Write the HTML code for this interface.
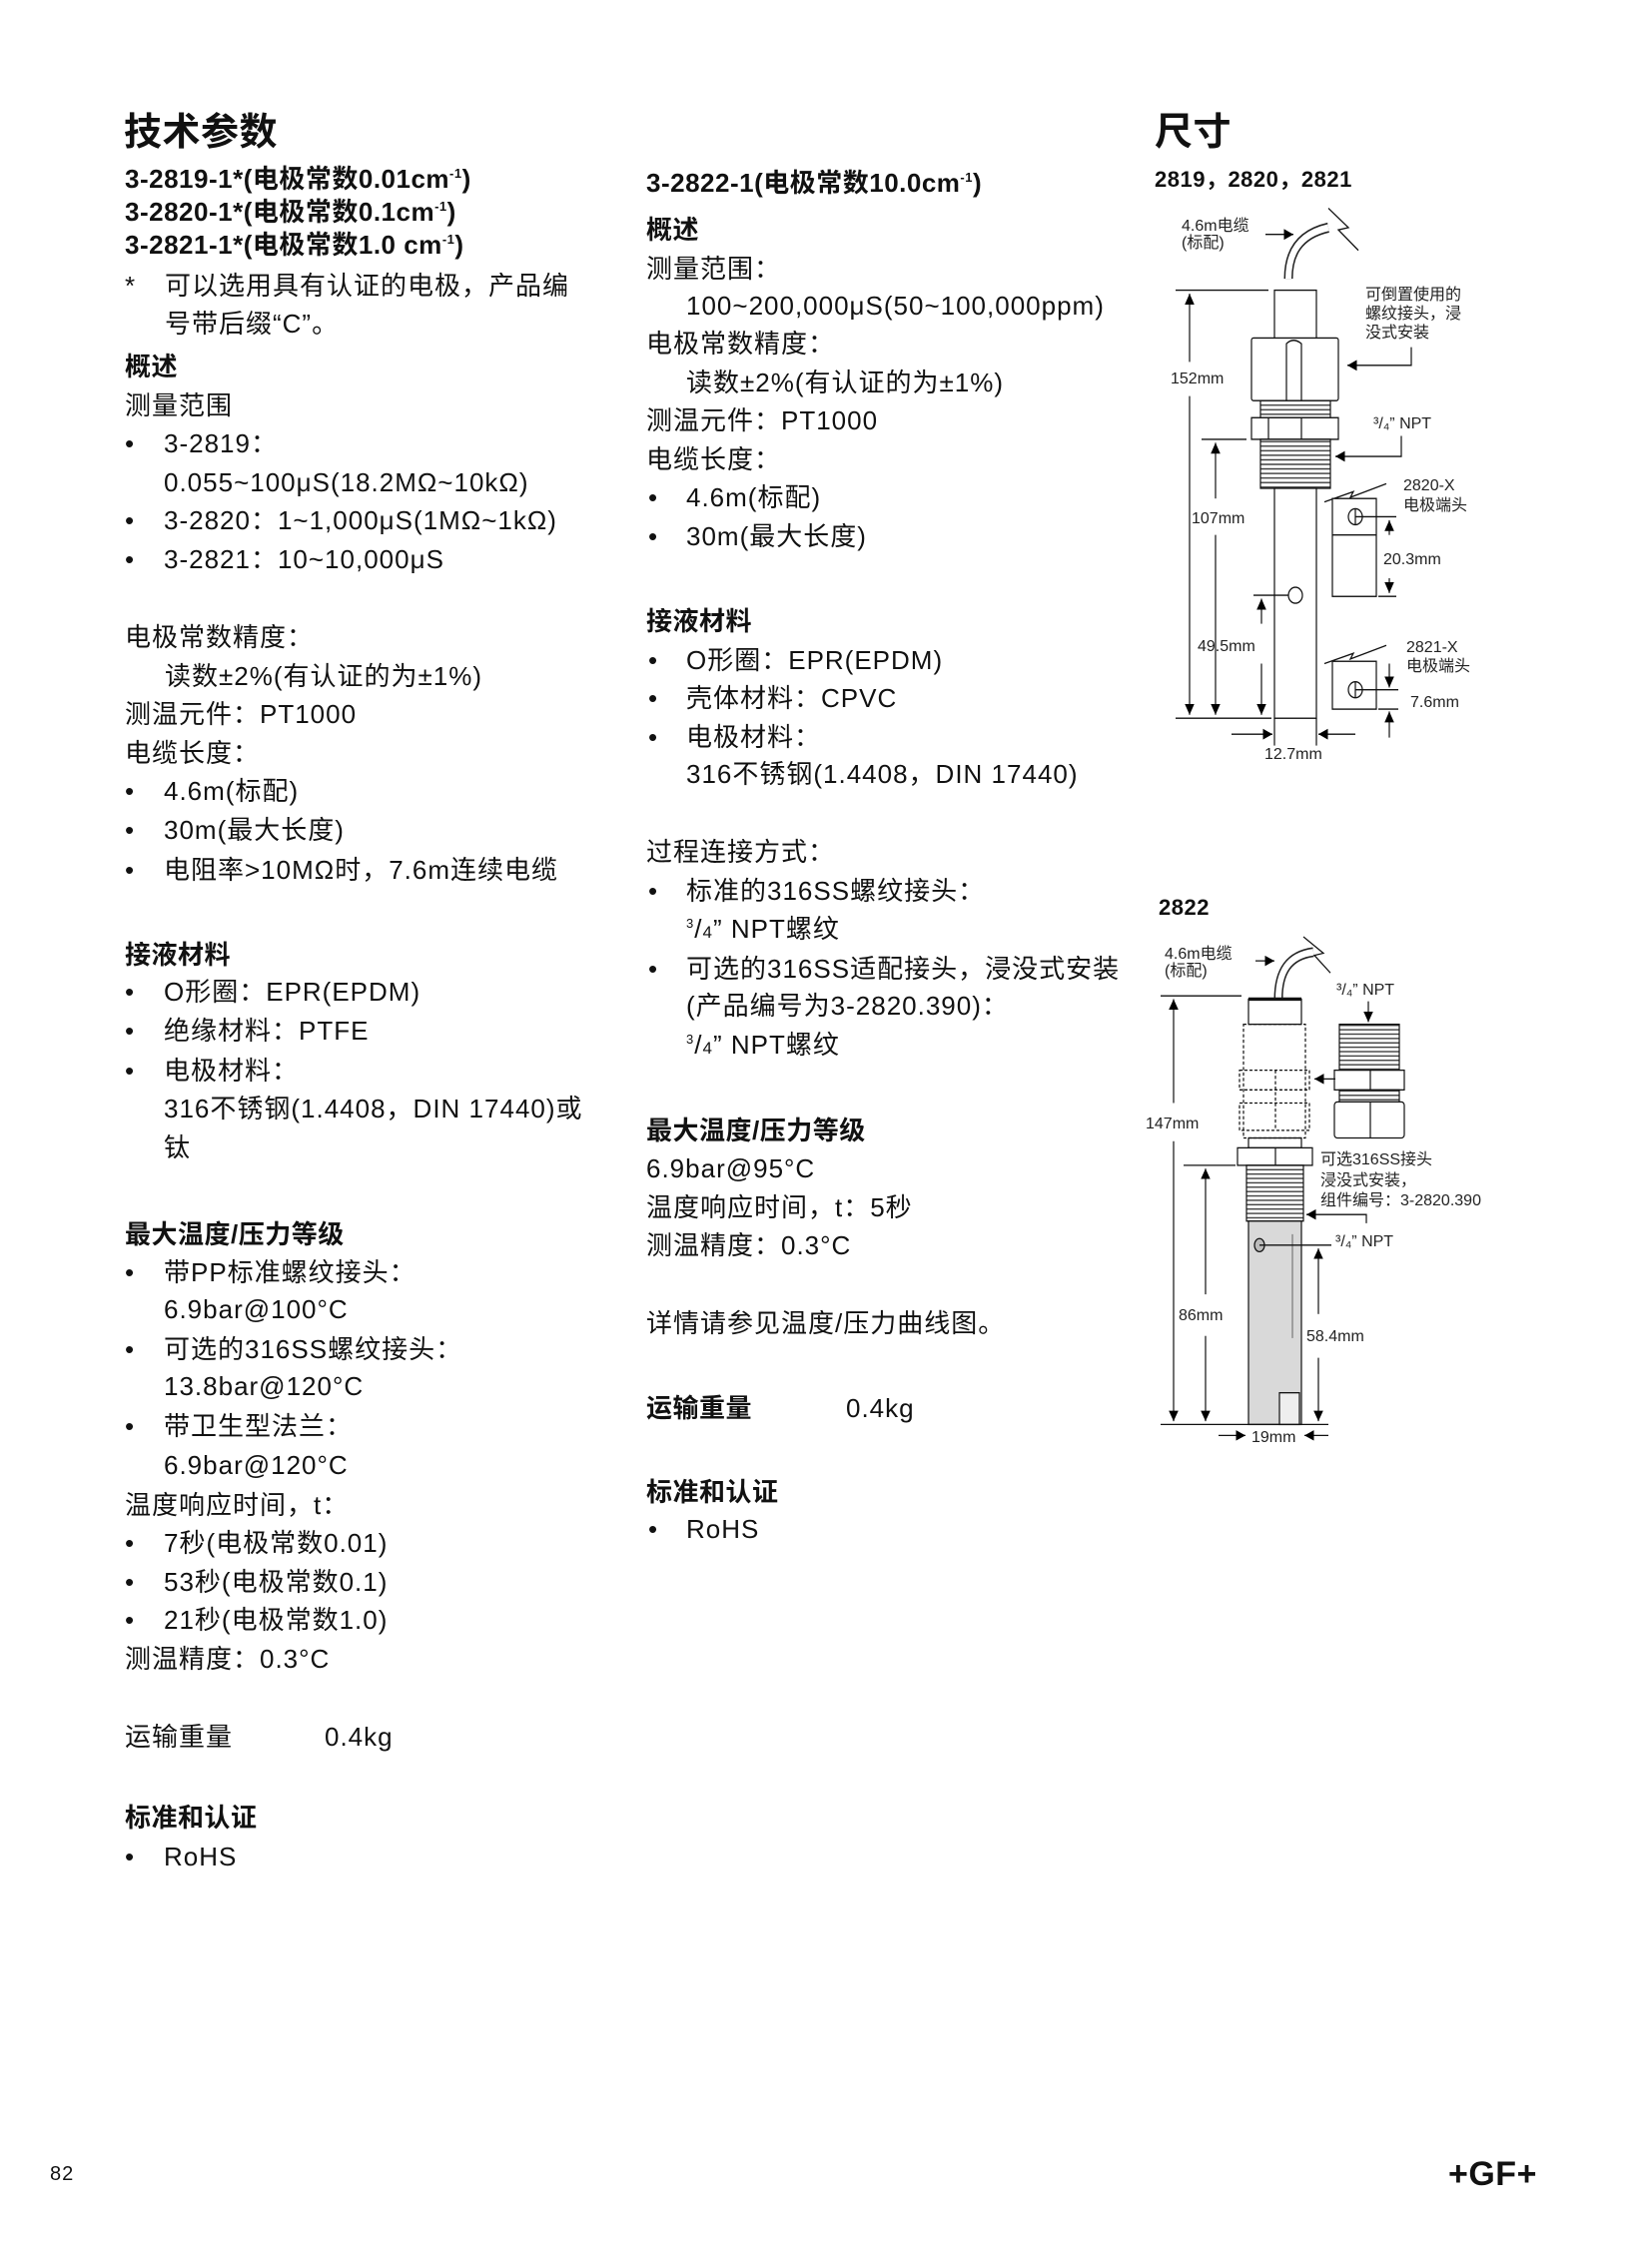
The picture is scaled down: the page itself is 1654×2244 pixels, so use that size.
<!DOCTYPE html>
<html><head><meta charset="utf-8">
<style>
body{margin:0;background:#fff;}
#p{position:relative;width:1654px;height:2244px;overflow:hidden;background:#fff;color:#111;font-family:"Liberation Sans","Noto Sans CJK SC",sans-serif;}
.t{position:absolute;font-size:26px;line-height:30px;white-space:nowrap;letter-spacing:1px;margin-top:5px;}
.b{font-weight:bold;letter-spacing:0.5px;}
sup{font-size:13px;vertical-align:10px;line-height:0;}
svg text{font-family:"Liberation Sans","Noto Sans CJK SC",sans-serif;fill:#222;}
</style></head><body><div id="p">
<div class="t b" style="left:124px;top:106px;font-size:38px;line-height:44px">技术参数</div>
<div class="t b" style="left:1156px;top:106px;font-size:38px;line-height:44px">尺寸</div>
<div class="t b" style="left:1156px;top:162px;font-size:22px;line-height:26px">2819，2820，2821</div>
<div class="t b" style="left:1160px;top:891px;font-size:22px;line-height:26px">2822</div>

<div class="t b" style="left:125px;top:159px">3-2819-1*(电极常数0.01cm<sup>-1</sup>)</div>
<div class="t b" style="left:125px;top:192px">3-2820-1*(电极常数0.1cm<sup>-1</sup>)</div>
<div class="t b" style="left:125px;top:225px">3-2821-1*(电极常数1.0 cm<sup>-1</sup>)</div>
<div class="t" style="left:125px;top:266px">*</div>
<div class="t" style="left:165px;top:266px">可以选用具有认证的电极，产品编</div>
<div class="t" style="left:165px;top:304px">号带后缀“C”。</div>
<div class="t b" style="left:125px;top:347px">概述</div>
<div class="t" style="left:125px;top:386px">测量范围</div>
<div class="t" style="left:125px;top:424px">•</div><div class="t" style="left:164px;top:424px">3-2819：</div>
<div class="t" style="left:164px;top:463px">0.055~100μS(18.2MΩ~10kΩ)</div>
<div class="t" style="left:125px;top:501px">•</div><div class="t" style="left:164px;top:501px">3-2820：1~1,000μS(1MΩ~1kΩ)</div>
<div class="t" style="left:125px;top:540px">•</div><div class="t" style="left:164px;top:540px">3-2821：10~10,000μS</div>
<div class="t" style="left:125px;top:618px">电极常数精度：</div>
<div class="t" style="left:165px;top:657px">读数±2%(有认证的为±1%)</div>
<div class="t" style="left:125px;top:695px">测温元件：PT1000</div>
<div class="t" style="left:125px;top:734px">电缆长度：</div>
<div class="t" style="left:125px;top:772px">•</div><div class="t" style="left:164px;top:772px">4.6m(标配)</div>
<div class="t" style="left:125px;top:811px">•</div><div class="t" style="left:164px;top:811px">30m(最大长度)</div>
<div class="t" style="left:125px;top:851px">•</div><div class="t" style="left:164px;top:851px">电阻率&gt;10MΩ时，7.6m连续电缆</div>
<div class="t b" style="left:125px;top:936px">接液材料</div>
<div class="t" style="left:125px;top:973px">•</div><div class="t" style="left:164px;top:973px">O形圈：EPR(EPDM)</div>
<div class="t" style="left:125px;top:1012px">•</div><div class="t" style="left:164px;top:1012px">绝缘材料：PTFE</div>
<div class="t" style="left:125px;top:1052px">•</div><div class="t" style="left:164px;top:1052px">电极材料：</div>
<div class="t" style="left:164px;top:1090px">316不锈钢(1.4408，DIN 17440)或</div>
<div class="t" style="left:164px;top:1129px">钛</div>
<div class="t b" style="left:125px;top:1216px">最大温度/压力等级</div>
<div class="t" style="left:125px;top:1254px">•</div><div class="t" style="left:164px;top:1254px">带PP标准螺纹接头：</div>
<div class="t" style="left:164px;top:1291px">6.9bar@100°C</div>
<div class="t" style="left:125px;top:1331px">•</div><div class="t" style="left:164px;top:1331px">可选的316SS螺纹接头：</div>
<div class="t" style="left:164px;top:1368px">13.8bar@120°C</div>
<div class="t" style="left:125px;top:1408px">•</div><div class="t" style="left:164px;top:1408px">带卫生型法兰：</div>
<div class="t" style="left:164px;top:1447px">6.9bar@120°C</div>
<div class="t" style="left:125px;top:1487px">温度响应时间，t：</div>
<div class="t" style="left:125px;top:1525px">•</div><div class="t" style="left:164px;top:1525px">7秒(电极常数0.01)</div>
<div class="t" style="left:125px;top:1564px">•</div><div class="t" style="left:164px;top:1564px">53秒(电极常数0.1)</div>
<div class="t" style="left:125px;top:1602px">•</div><div class="t" style="left:164px;top:1602px">21秒(电极常数1.0)</div>
<div class="t" style="left:125px;top:1641px">测温精度：0.3°C</div>
<div class="t" style="left:125px;top:1719px">运输重量</div><div class="t" style="left:325px;top:1719px">0.4kg</div>
<div class="t b" style="left:125px;top:1800px">标准和认证</div>
<div class="t" style="left:125px;top:1839px">•</div><div class="t" style="left:164px;top:1839px">RoHS</div>

<div class="t b" style="left:647px;top:163px">3-2822-1(电极常数10.0cm<sup>-1</sup>)</div>
<div class="t b" style="left:647px;top:210px">概述</div>
<div class="t" style="left:647px;top:249px">测量范围：</div>
<div class="t" style="left:687px;top:286px">100~200,000μS(50~100,000ppm)</div>
<div class="t" style="left:647px;top:324px">电极常数精度：</div>
<div class="t" style="left:687px;top:363px">读数±2%(有认证的为±1%)</div>
<div class="t" style="left:647px;top:401px">测温元件：PT1000</div>
<div class="t" style="left:647px;top:440px">电缆长度：</div>
<div class="t" style="left:649px;top:478px">•</div><div class="t" style="left:687px;top:478px">4.6m(标配)</div>
<div class="t" style="left:649px;top:517px">•</div><div class="t" style="left:687px;top:517px">30m(最大长度)</div>
<div class="t b" style="left:647px;top:602px">接液材料</div>
<div class="t" style="left:649px;top:641px">•</div><div class="t" style="left:687px;top:641px">O形圈：EPR(EPDM)</div>
<div class="t" style="left:649px;top:679px">•</div><div class="t" style="left:687px;top:679px">壳体材料：CPVC</div>
<div class="t" style="left:649px;top:718px">•</div><div class="t" style="left:687px;top:718px">电极材料：</div>
<div class="t" style="left:687px;top:755px">316不锈钢(1.4408，DIN 17440)</div>
<div class="t" style="left:647px;top:833px">过程连接方式：</div>
<div class="t" style="left:649px;top:872px">•</div><div class="t" style="left:687px;top:872px">标准的316SS螺纹接头：</div>
<div class="t" style="left:687px;top:910px"><sup>3</sup>/<span style="font-size:17px">4</span>” NPT螺纹</div>
<div class="t" style="left:649px;top:950px">•</div><div class="t" style="left:687px;top:950px">可选的316SS适配接头，浸没式安装</div>
<div class="t" style="left:687px;top:987px">(产品编号为3-2820.390)：</div>
<div class="t" style="left:687px;top:1026px"><sup>3</sup>/<span style="font-size:17px">4</span>” NPT螺纹</div>
<div class="t b" style="left:647px;top:1112px">最大温度/压力等级</div>
<div class="t" style="left:647px;top:1150px">6.9bar@95°C</div>
<div class="t" style="left:647px;top:1189px">温度响应时间，t：5秒</div>
<div class="t" style="left:647px;top:1227px">测温精度：0.3°C</div>
<div class="t" style="left:647px;top:1305px">详情请参见温度/压力曲线图。</div>
<div class="t b" style="left:647px;top:1390px">运输重量</div><div class="t" style="left:847px;top:1390px">0.4kg</div>
<div class="t b" style="left:647px;top:1474px">标准和认证</div>
<div class="t" style="left:649px;top:1511px">•</div><div class="t" style="left:687px;top:1511px">RoHS</div>

<div class="t" style="left:50px;top:2157px;font-size:20px">82</div>
<div class="t b" style="left:1450px;top:2152px;font-size:34px;line-height:40px">+GF+</div>

<svg width="1654" height="2244" style="position:absolute;left:0;top:0" xmlns="http://www.w3.org/2000/svg">
<defs>
<marker id="a" viewBox="0 0 10 10" refX="10" refY="5" markerWidth="8" markerHeight="8" orient="auto-start-reverse"><path d="M0,0L10,5L0,10z" fill="#000"/></marker>
<pattern id="th" width="4" height="4" patternUnits="userSpaceOnUse"><rect width="4" height="4" fill="#fff"/><line x1="0" y1="2" x2="4" y2="2" stroke="#333" stroke-width="1.2"/></pattern>
</defs>
<g stroke="#111" stroke-width="1.2" fill="none" transform="translate(0,180) scale(1,1.14) translate(0,-180)">
<path d="M1290,267 C1290,245 1300,228 1330,222" stroke-width="9" stroke="#222"/>
<path d="M1290,267 C1290,245 1300,228 1330,222" stroke-width="6" stroke="#fff"/>
<path d="M1330,205 L1350,222 L1340,224 L1360,242"/>
<line x1="1267" y1="228" x2="1295" y2="228" marker-end="url(#a)"/>
<rect x="1276" y="277" width="42" height="43" fill="#fff"/>
<rect x="1253" y="319" width="87" height="55" fill="#fff" rx="2"/>
<path d="M1288,374 V324 Q1295,318 1303,324 V374"/>
<rect x="1262" y="374" width="70" height="15" fill="url(#th)"/>
<rect x="1253" y="389" width="87" height="19" fill="#fff"/>
<line x1="1270" y1="389" x2="1270" y2="408"/><line x1="1303" y1="389" x2="1303" y2="408"/>
<rect x="1262" y="408" width="70" height="43" fill="url(#th)" stroke="#111"/>
<rect x="1276" y="451" width="42" height="202" fill="#fff"/>
<circle cx="1297" cy="545" r="7"/>
<line x1="1177" y1="277" x2="1270" y2="277"/>
<line x1="1191" y1="340" x2="1191" y2="280" marker-end="url(#a)"/>
<line x1="1191" y1="370" x2="1191" y2="650" marker-end="url(#a)"/>
<line x1="1203" y1="408" x2="1248" y2="408"/>
<line x1="1217" y1="460" x2="1217" y2="411" marker-end="url(#a)"/>
<line x1="1217" y1="492" x2="1217" y2="650" marker-end="url(#a)"/>
<line x1="1255" y1="545" x2="1290" y2="545"/>
<line x1="1263" y1="570" x2="1263" y2="548" marker-end="url(#a)"/>
<line x1="1263" y1="605" x2="1263" y2="650" marker-end="url(#a)"/>
<line x1="1177" y1="653" x2="1273" y2="653"/>
<line x1="1276" y1="653" x2="1276" y2="677"/><line x1="1318" y1="653" x2="1318" y2="677"/>
<line x1="1233" y1="667" x2="1274" y2="667" marker-end="url(#a)"/>
<line x1="1357" y1="667" x2="1320" y2="667" marker-end="url(#a)"/>
<path d="M1413,327 V343 H1349" marker-end="url(#a)"/>
<path d="M1403,405 V423 H1337" marker-end="url(#a)"/>
<path d="M1326,463 L1355,454 L1352,459 L1388,447"/>
<rect x="1334" y="460" width="44" height="86" fill="#fff"/>
<line x1="1334" y1="492" x2="1378" y2="492"/>
<circle cx="1357" cy="476" r="7"/><line x1="1357" y1="469" x2="1357" y2="483"/>
<line x1="1357" y1="476" x2="1398" y2="476"/>
<line x1="1380" y1="546" x2="1398" y2="546"/>
<line x1="1391" y1="492" x2="1391" y2="479" marker-end="url(#a)"/>
<line x1="1391" y1="530" x2="1391" y2="543" marker-end="url(#a)"/>
<path d="M1326,605 L1355,596 L1352,601 L1388,589"/>
<rect x="1334" y="603" width="44" height="42" fill="#fff"/>
<circle cx="1357" cy="628" r="7"/><line x1="1357" y1="621" x2="1357" y2="635"/>
<line x1="1357" y1="628" x2="1400" y2="628"/>
<line x1="1380" y1="645" x2="1400" y2="645"/>
<line x1="1391" y1="605" x2="1391" y2="626" marker-end="url(#a)"/>
<line x1="1391" y1="670" x2="1391" y2="647" marker-end="url(#a)"/>
</g>
<g stroke="#111" stroke-width="1.2" fill="none" transform="translate(0,880) scale(1,1.095) translate(0,-880)">
<path d="M1280,990 C1280,965 1290,950 1315,947" stroke-width="9" stroke="#222"/>
<path d="M1280,990 C1280,965 1290,950 1315,947" stroke-width="6" stroke="#fff"/>
<path d="M1305,933 L1325,948 L1316,950 L1332,966"/>
<line x1="1257" y1="955" x2="1276" y2="955" marker-end="url(#a)"/>
<rect x="1250" y="990" width="53" height="23" fill="#fff"/>
<line x1="1250" y1="990" x2="1303" y2="990" stroke-width="3"/>
<g stroke-dasharray="3,2"><rect x="1245" y="1013" width="62" height="104"/>
<rect x="1241" y="1055" width="70" height="18"/><rect x="1241" y="1085" width="70" height="25"/>
<line x1="1277" y1="1055" x2="1277" y2="1110"/></g>
<rect x="1250" y="1117" width="53" height="9"/>
<rect x="1239" y="1126" width="75" height="16" fill="#fff"/>
<line x1="1277" y1="1126" x2="1277" y2="1142"/>
<rect x="1248" y="1142" width="57" height="51" fill="url(#th)" stroke="#111"/>
<rect x="1250" y="1193" width="53" height="186" fill="#d9d9d9"/>
<line x1="1294" y1="1205" x2="1294" y2="1300" stroke="#777"/>
<ellipse cx="1261" cy="1215" rx="5" ry="6" fill="#bbb"/>
<rect x="1281" y="1350" width="20" height="29" fill="#eee"/>
<line x1="1162" y1="987" x2="1243" y2="987"/>
<line x1="1175" y1="1085" x2="1175" y2="990" marker-end="url(#a)"/>
<line x1="1175" y1="1120" x2="1175" y2="1376" marker-end="url(#a)"/>
<line x1="1185" y1="1142" x2="1237" y2="1142"/>
<line x1="1207" y1="1260" x2="1207" y2="1145" marker-end="url(#a)"/>
<line x1="1207" y1="1298" x2="1207" y2="1376" marker-end="url(#a)"/>
<line x1="1261" y1="1215" x2="1333" y2="1215"/>
<line x1="1320" y1="1278" x2="1320" y2="1218" marker-end="url(#a)"/>
<line x1="1320" y1="1318" x2="1320" y2="1376" marker-end="url(#a)"/>
<line x1="1162" y1="1379" x2="1330" y2="1379"/>
<line x1="1220" y1="1389" x2="1247" y2="1389" marker-end="url(#a)"/>
<line x1="1330" y1="1389" x2="1306" y2="1389" marker-end="url(#a)"/>
<path d="M1368,1195 V1187 H1308" marker-end="url(#a)"/>
<line x1="1370" y1="992" x2="1370" y2="1011" marker-end="url(#a)"/>
<rect x="1341" y="1013" width="60" height="42" fill="url(#th)" stroke="#111"/>
<rect x="1336" y="1055" width="70" height="18" fill="#fff"/>
<line x1="1372" y1="1055" x2="1372" y2="1073"/>
<rect x="1341" y="1073" width="60" height="11" fill="url(#th)" stroke="#111"/>
<rect x="1336" y="1084" width="70" height="33" fill="#fff" rx="3"/>
<line x1="1372" y1="1084" x2="1372" y2="1117"/>
<line x1="1337" y1="1063" x2="1316" y2="1063" marker-end="url(#a)"/>
</g>
<g font-size="16" stroke="none">
<text x="1183" y="231">4.6m电缆</text><text x="1183" y="248">(标配)</text>
<text x="1172" y="384">152mm</text>
<text x="1193" y="524">107mm</text>
<text x="1199" y="652">49.5mm</text>
<text x="1266" y="760">12.7mm</text>
<text x="1367" y="300">可倒置使用的</text><text x="1367" y="319">螺纹接头，浸</text><text x="1367" y="338">没式安装</text>
<text x="1375" y="429">³/₄” NPT</text>
<text x="1405" y="491">2820-X</text><text x="1405" y="511">电极端头</text>
<text x="1385" y="565">20.3mm</text>
<text x="1408" y="653">2821-X</text><text x="1408" y="672">电极端头</text>
<text x="1412" y="708">7.6mm</text>
<text x="1166" y="960">4.6m电缆</text><text x="1166" y="977">(标配)</text>
<text x="1338" y="996">³/₄” NPT</text>
<text x="1147" y="1130">147mm</text>
<text x="1180" y="1322">86mm</text>
<text x="1308" y="1343">58.4mm</text>
<text x="1322" y="1166">可选316SS接头</text><text x="1322" y="1187">浸没式安装，</text><text x="1322" y="1207">组件编号：3-2820.390</text>
<text x="1337" y="1248">³/₄” NPT</text>
<text x="1253" y="1444">19mm</text>
</g>
</svg>
</div></body></html>
